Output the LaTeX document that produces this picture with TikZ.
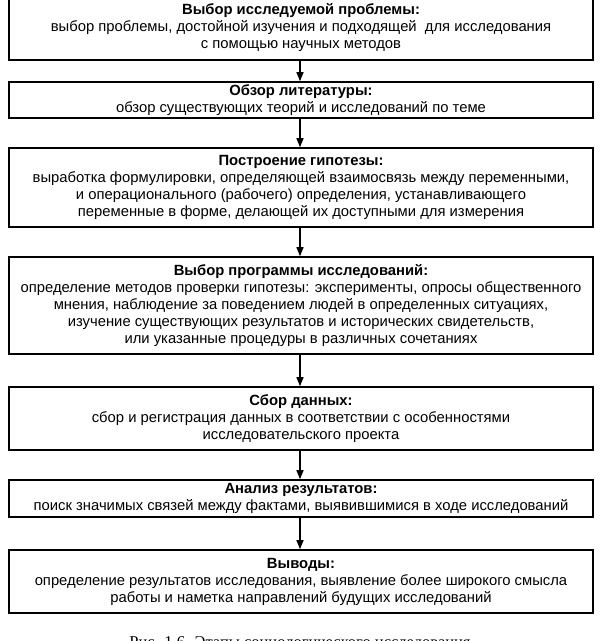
\documentclass[tikz,border=0pt]{standalone}
\usepackage{fontspec}
\setmainfont{Liberation Sans}
\newfontfamily\capfont{Liberation Serif}
\usetikzlibrary{arrows.meta}
\tikzset{
  stagebox/.style={draw=black, line width=1.6pt, minimum width=584pt, inner sep=0pt,
    align=center, font=\fontsize{14.8}{17}\selectfont},
  flowarrow/.style={line width=1.3pt, -{Triangle[length=9pt,width=7pt]}}
}
\newcommand{\hd}[1]{\textbf{#1}}
\begin{document}
\begin{tikzpicture}[x=1pt,y=-1pt]
\useasboundingbox (0,0) rectangle (600,641);
\node[stagebox, minimum height=64pt] (b1) at (301,28) {\hd{Выбор исследуемой проблемы:}\\выбор проблемы, достойной изучения и подходящей\ \ для исследования\\с помощью научных методов};
\node[stagebox, minimum height=36pt] (b2) at (301,100) {\hd{Обзор литературы:}\\обзор существующих теорий и исследований по теме};
\node[stagebox, minimum height=79pt] (b3) at (301,187.5) {\hd{Построение гипотезы:}\\выработка формулировки, определяющей взаимосвязь между переменными,\\и операционального (рабочего) определения, устанавливающего\\переменные в форме, делающей их доступными для измерения};
\node[stagebox, minimum height=97pt] (b4) at (301,305.5) {\hd{Выбор программы исследований:}\\определение методов проверки гипотезы: эксперименты, опросы общественного\\мнения, наблюдение за поведением людей в определенных ситуациях,\\изучение существующих результатов и исторических свидетельств,\\или указанные процедуры в различных сочетаниях};
\node[stagebox, minimum height=63pt] (b5) at (301,418.5) {\hd{Сбор данных:}\\сбор и регистрация данных в соответствии с особенностями\\исследовательского проекта};
\node[stagebox, minimum height=37pt] (b6) at (301,498.5) {\hd{Анализ результатов:}\\поиск значимых связей между фактами, выявившимися в ходе исследований};
\node[stagebox, minimum height=63pt] (b7) at (301,581.5) {\hd{Выводы:}\\определение результатов исследования, выявление более широкого смысла\\работы и наметка направлений будущих исследований};
\foreach \a/\b in {b1/b2,b2/b3,b3/b4,b4/b5,b5/b6,b6/b7}
  \draw[flowarrow] ([xshift=-1pt]\a.south) -- ([xshift=-1pt]\b.north);
\node[font=\capfont\fontsize{16.5}{19}\selectfont, anchor=base] (cap) at (300,647) {Рис. 1.6. Этапы социологического исследования};
\end{tikzpicture}
\end{document}
